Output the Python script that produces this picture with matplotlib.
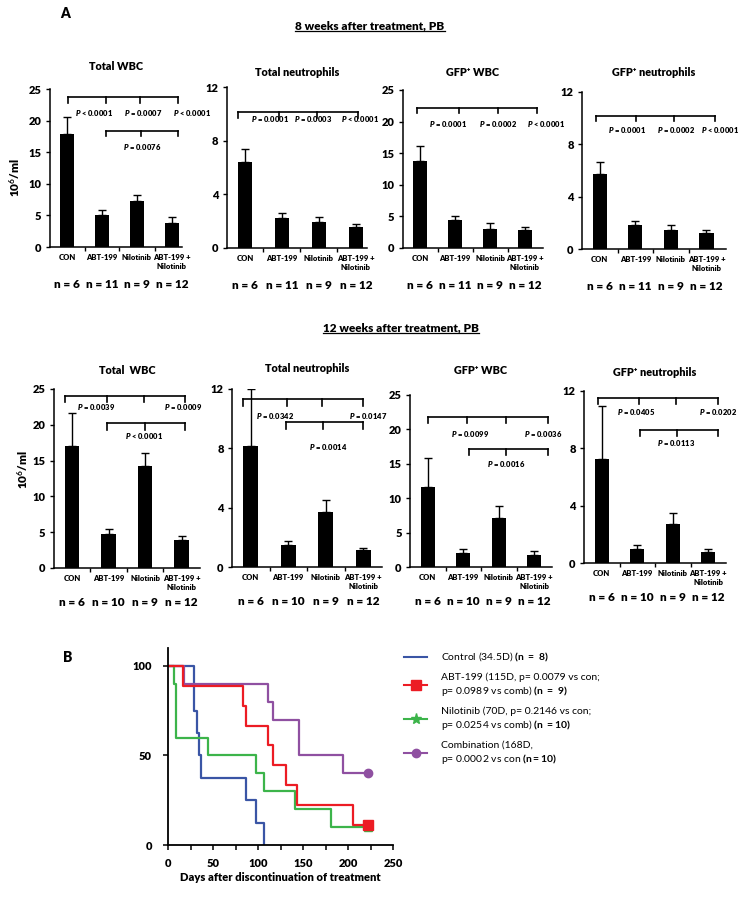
import matplotlib
matplotlib.use('Agg')
import matplotlib.pyplot as plt
from matplotlib.lines import Line2D

plt.rcParams['font.family'] = ['Lato', 'DejaVu Sans']
plt.rcParams['mathtext.fontset'] = 'custom'
plt.rcParams['mathtext.rm'] = 'Lato'
plt.rcParams['mathtext.bf'] = 'Lato:bold'
plt.rcParams['mathtext.it'] = 'Lato:italic:heavy'

BOLD = 'heavy'

# ---- data ----
groups = ["CON", "ABT-199", "Nilotinib", "ABT-199 +\nNilotinib"]
n_8wk = ["n = 6", "n = 11", "n = 9", "n = 12"]
n_12wk = ["n = 6", "n = 10", "n = 9", "n = 12"]

wbc_8 = [17.9, 5.0, 7.3, 3.8]
wbc_8_err = [2.7, 0.9, 0.85, 0.95]
neu_8 = [6.4, 2.24, 1.91, 1.54]
neu_8_err = [1.0, 0.35, 0.4, 0.25]
gwbc_8 = [13.8, 4.4, 3.0, 2.9]
gwbc_8_err = [2.3, 0.73, 0.95, 0.5]
gneu_8 = [5.74, 1.8, 1.42, 1.22]
gneu_8_err = [0.9, 0.36, 0.43, 0.25]

wbc_12 = [17.0, 4.7, 14.3, 3.85]
wbc_12_err = [4.6, 0.7, 1.8, 0.55]
neu_12 = [8.17, 1.47, 3.7, 1.13]
neu_12_err = [3.8, 0.29, 0.8, 0.18]
gwbc_12 = [11.6, 2.04, 7.18, 1.75]
gwbc_12_err = [4.2, 0.63, 1.7, 0.53]
gneu_12 = [7.26, 0.97, 2.69, 0.77]
gneu_12_err = [3.7, 0.26, 0.79, 0.2]

p_wbc_8 = ["< 0.0001", "= 0.0007", "< 0.0001", "= 0.0076"]
p_neu_8 = ["= 0.0001", "= 0.0003", "< 0.0001"]
p_gwbc_8 = ["= 0.0001", "= 0.0002", "< 0.0001"]
p_gneu_8 = ["= 0.0001", "= 0.0002", "< 0.0001"]
p_wbc_12 = ["= 0.0039", "= 0.0009", "< 0.0001"]
p_neu_12 = ["= 0.0342", "= 0.0147", "= 0.0014"]
p_gwbc_12 = ["= 0.0099", "= 0.0036", "= 0.0016"]
p_gneu_12 = ["= 0.0405", "= 0.0202", "= 0.0113"]

# survival (days, % surviving)
con_t = [0, 29, 32, 34, 37, 87, 98, 107]
con_s = [100, 75, 62.5, 50, 37.5, 25, 12.5, 0]
abt_t = [0, 17, 83, 87, 111, 117, 131, 143, 205, 222]
abt_s = [100, 88.9, 77.8, 66.7, 55.6, 44.4, 33.3, 22.2, 11.1, 11.1]
nil_t = [0, 7, 8.5, 44, 98, 107, 141, 181, 222]
nil_s = [100, 90, 60, 50, 40, 30, 20, 10, 10]
comb_t = [0, 18, 111, 117, 146, 194, 222]
comb_s = [100, 90, 80, 70, 50, 40, 40]

W, H = 748, 898
fig = plt.figure(figsize=(W / 100, H / 100), dpi=100)


def box(l, r, t, b):
    return [l / W, 1 - b / H, (r - l) / W, (b - t) / H]


def ptxt(s):
    return r"$\mathit{P}$ " + s


def bar_panel(pos, vals, errs, ymax, yticks, xlim, nlab, title, title_y,
              brackets, ptexts, n_off):
    ax = fig.add_axes(box(*pos))
    x = list(range(4))
    ax.bar(x, vals, width=0.4, color='black')
    ax.errorbar(x, vals, yerr=[[0] * 4, errs], fmt='none', ecolor='black',
                elinewidth=1, capsize=3, capthick=1)
    ax.set_xlim(*xlim)
    ax.set_ylim(0, ymax)
    ax.set_yticks(yticks)
    ax.set_yticklabels([str(t) for t in yticks], fontsize=8, fontweight=BOLD)
    ax.set_xticks(x)
    ax.set_xticklabels(groups, fontsize=5.5, fontweight=BOLD, linespacing=1.3)
    ax.tick_params(axis='x', which='major', length=0, pad=5)
    ax.set_xticks([0.5, 1.5, 2.5], minor=True)
    ax.tick_params(axis='x', which='minor', length=3, width=1, direction='out')
    ax.tick_params(axis='y', length=3, width=1, pad=3)
    for s in ['top', 'right']:
        ax.spines[s].set_visible(False)
    for s in ['left', 'bottom']:
        ax.spines[s].set_linewidth(1.1)
    drop = ymax * 0.035
    for y, x0, x1, ticks in brackets:
        ax.plot([x0, x1], [y, y], color='black', lw=1.2, clip_on=False)
        for tx in [x0, x1] + ticks:
            ax.plot([tx, tx], [y, y - drop], color='black', lw=1.2, clip_on=False)
    for (tx, ty), s in ptexts:
        ax.text(tx, ty, ptxt(s), fontsize=5.5, fontweight=BOLD,
                ha='center', va='center', clip_on=False)
    for i, s in enumerate(nlab):
        ax.annotate(s, xy=(i, 0), xycoords=('data', 'axes fraction'),
                    xytext=(0, -n_off), textcoords='offset points',
                    ha='center', va='center', fontsize=8.5, fontweight=BOLD)
    cx = (pos[0] + pos[1]) / 2
    fig.text(cx / W, 1 - title_y / H, title, fontsize=7.8, fontweight=BOLD,
             ha='center', va='center')
    return ax


# ---- 8 weeks ----
bar_panel((49.5, 182.5, 89, 247), wbc_8, wbc_8_err, 25, [0, 5, 10, 15, 20, 25],
          (-0.5, 3.3), n_8wk, "Total WBC", 67,
          [(23.7, 0.04, 3.18, [1.11, 2.09]), (18.4, 1.11, 3.18, [2.1])],
          [((0.77, 21.2), p_wbc_8[0]), ((2.17, 21.2), p_wbc_8[1]),
           ((3.57, 21.2), p_wbc_8[2]), ((2.14, 15.8), p_wbc_8[3])], 27)
bar_panel((226.5, 367, 87, 248), neu_8, neu_8_err, 12, [0, 4, 8, 12],
          (-0.5, 3.3), n_8wk, "Total neutrophils", 73,
          [(10.1, -0.19, 3.05, [0.92, 1.95])],
          [((0.68, 9.65), p_neu_8[0]), ((1.84, 9.65), p_neu_8[1]),
           ((3.1, 9.65), p_neu_8[2])], 27)
bar_panel((402.5, 542.5, 90, 248), gwbc_8, gwbc_8_err, 25, [0, 5, 10, 15, 20, 25],
          (-0.5, 3.5), n_8wk, "GFP\u207a WBC", 72,
          [(22.2, -0.08, 3.35, [1.1, 2.22])],
          [((0.8, 19.6), p_gwbc_8[0]), ((2.23, 19.6), p_gwbc_8[1]),
           ((3.6, 19.6), p_gwbc_8[2])], 27)
bar_panel((582, 726, 92, 249), gneu_8, gneu_8_err, 12, [0, 4, 8, 12],
          (-0.5, 3.55), n_8wk, "GFP\u207a neutrophils", 72,
          [(10.2, -0.11, 3.24, [1.01, 2.08])],
          [((0.76, 9.1), p_gneu_8[0]), ((2.14, 9.1), p_gneu_8[1]),
           ((3.38, 9.1), p_gneu_8[2])], 27)

# ---- 12 weeks ----
bar_panel((53.6, 200, 389, 568), wbc_12, wbc_12_err, 25, [0, 5, 10, 15, 20, 25],
          (-0.5, 3.5), n_12wk, "Total  WBC", 370,
          [(24.0, -0.18, 3.1, [0.95, 1.97]), (20.2, 0.97, 3.1, [1.99])],
          [((0.67, 22.5), p_wbc_12[0]), ((3.04, 22.5), p_wbc_12[1]),
           ((1.96, 18.4), p_wbc_12[2])], 25)
bar_panel((232, 382, 389, 567), neu_12, neu_12_err, 12, [0, 4, 8, 12],
          (-0.5, 3.5), n_12wk, "Total neutrophils", 369,
          [(11.3, -0.2, 3.0, [0.97, 1.9]), (9.75, 0.95, 3.0, [1.93])],
          [((0.65, 10.2), p_neu_12[0]), ((3.13, 10.2), p_neu_12[1]),
           ((2.07, 8.1), p_neu_12[2])], 25)
bar_panel((410, 552, 395, 567), gwbc_12, gwbc_12_err, 25, [0, 5, 10, 15, 20, 25],
          (-0.5, 3.5), n_12wk, "GFP\u207a WBC", 370,
          [(21.8, 0.0, 3.38, [1.1, 2.2]), (17.1, 1.15, 3.38, [2.2])],
          [((1.18, 19.4), p_gwbc_12[0]), ((3.25, 19.4), p_gwbc_12[1]),
           ((2.2, 15.0), p_gwbc_12[2])], 25)
bar_panel((584, 726, 391, 563), gneu_12, gneu_12_err, 12, [0, 4, 8, 12],
          (-0.5, 3.5), n_12wk, "GFP\u207a neutrophils", 373,
          [(11.5, -0.11, 3.28, [1.06, 2.1]), (9.3, 1.08, 3.28, [2.12])],
          [((0.98, 10.5), p_gneu_12[0]), ((3.28, 10.5), p_gneu_12[1]),
           ((2.1, 8.4), p_gneu_12[2])], 25)

# y labels
for ly, lx in [(178, 15), (470, 23)]:
    fig.text(lx / W, 1 - ly / H, r"10$^{\mathbf{6}}$/ml", rotation=90,
             fontsize=8.5, fontweight=BOLD, ha='center', va='center')

fig.text(65 / W, 1 - 14 / H, "A", fontsize=10, fontweight=BOLD, ha='center', va='center')
fig.text(68 / W, 1 - 657 / H, "B", fontsize=10, fontweight=BOLD, ha='center', va='center')

headers = [fig.text(370 / W, 1 - 26 / H, "8 weeks after treatment, PB", fontsize=8.5,
                    fontweight=BOLD, ha='center', va='center'),
           fig.text(401 / W, 1 - 328 / H, "12 weeks after treatment, PB", fontsize=8.5,
                    fontweight=BOLD, ha='center', va='center')]
fig.canvas.draw()
r = fig.canvas.get_renderer()
for t in headers:
    bb = t.get_window_extent(r).transformed(fig.transFigure.inverted())
    fig.add_artist(Line2D([bb.x0, bb.x1], [bb.y0 + 0.001, bb.y0 + 0.001],
                          transform=fig.transFigure, color='black', lw=0.9))

# ---- survival ----
blue, red, green, purple = '#3a55a5', '#ec1c24', '#3cb44a', '#8f50a1'
ax = fig.add_axes(box(168, 393, 648, 845))
ax.step(con_t, con_s, where='post', color=blue, lw=1.6)
ax.step(nil_t, nil_s, where='post', color=green, lw=1.6)
ax.plot(nil_t[-1:], nil_s[-1:], marker='^', color=green, ms=6)
ax.step(comb_t, comb_s, where='post', color=purple, lw=1.6)
ax.plot(comb_t[-1:], comb_s[-1:], marker='o', color=purple, ms=6)
ax.step(abt_t, abt_s, where='post', color=red, lw=1.6)
ax.plot(abt_t[-1:], abt_s[-1:], marker='s', color=red, ms=7)
ax.set_xlim(0, 250)
ax.set_ylim(0, 110)
ax.set_xticks([0, 50, 100, 150, 200, 250])
ax.set_xticks([25, 75, 125, 175, 225], minor=True)
ax.set_yticks([0, 50, 100])
for lab in ax.get_xticklabels() + ax.get_yticklabels():
    lab.set_fontweight(BOLD)
    lab.set_fontsize(8)
ax.tick_params(axis='both', which='both', length=3.5, width=1.1, direction='out')
ax.tick_params(axis='x', pad=6)
ax.tick_params(axis='y', pad=8)
for s in ['top', 'right']:
    ax.spines[s].set_visible(False)
for s in ['left', 'bottom']:
    ax.spines[s].set_linewidth(1.3)
ax.set_xlabel("Days after discontinuation of treatment", fontsize=8, fontweight=BOLD,
              labelpad=2)

handles = [Line2D([], [], color=blue, lw=1.5),
           Line2D([], [], color=red, lw=1.5, marker='s', ms=7),
           Line2D([], [], color=green, lw=1.5, marker='*', ms=8),
           Line2D([], [], color=purple, lw=1.5, marker='o', ms=6)]
labels = [r"Control (34.5D) $\mathbf{(n\ =\ 8)}$",
          "ABT-199 (115D, p= 0.0079 vs con;\n" + r"p= 0.0989 vs comb) $\mathbf{(n\ =\ 9)}$",
          "Nilotinib (70D, p= 0.2146 vs con;\n" + r"p= 0.0254 vs comb) $\mathbf{(n\ =10)}$",
          "Combination (168D,\n" + r"p= 0.0002 vs con $\mathbf{(n=10)}$"]
fig.legend(handles, labels, loc='upper left', bbox_to_anchor=(395 / W, 1 - 642 / H),
           frameon=False, fontsize=7.5, handlelength=2.2, handletextpad=1.3,
           labelspacing=0.8, numpoints=1)

fig.savefig('out.png', dpi=100)
